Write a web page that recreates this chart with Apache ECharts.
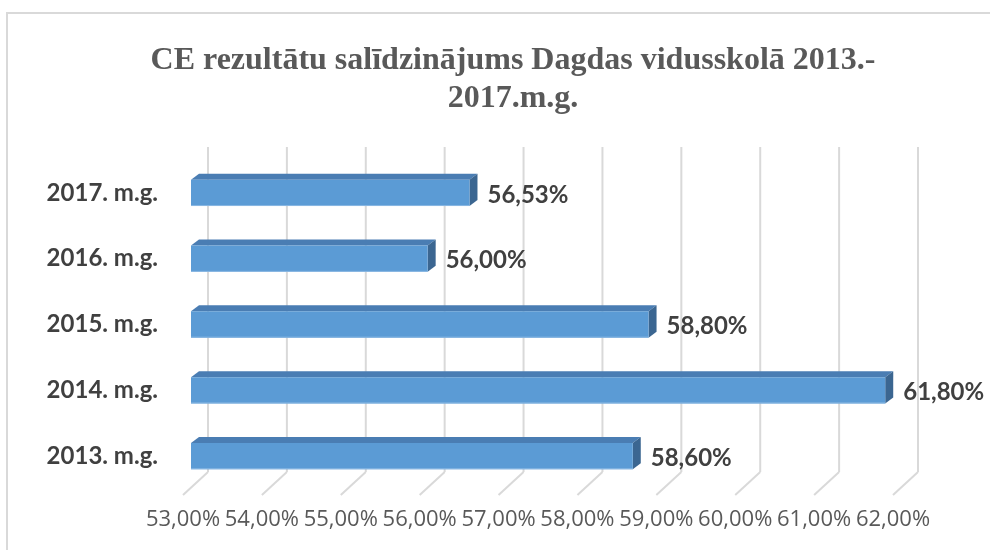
<!DOCTYPE html>
<html>
<head>
<meta charset="utf-8">
<script src="https://cdn.jsdelivr.net/npm/echarts@6/dist/echarts.min.js"></script>
<style>
  html, body { margin: 0; padding: 0; background: #fff; }
  #chart { width: 990px; height: 550px; }
</style>
</head>
<body>
<div id="chart"></div>
<script>
// data
const years = ['2013. m.g.', '2014. m.g.', '2015. m.g.', '2016. m.g.', '2017. m.g.'];
const results = [58.60, 61.80, 58.80, 56.00, 56.53];
const ticks = [53, 54, 55, 56, 57, 58, 59, 60, 61, 62];

const fmt = v => v.toFixed(2).replace('.', ',') + '%';

// fake 3d depth (px)
const DEPTH_X = 25, DEPTH_Y = -23;   // floor front -> back wall
const BAR_SHIFT = 8;                  // bar front face sits a bit into the floor
const BAR_DX = 8, BAR_DY = -6;        // bar thickness

const chart = echarts.init(document.getElementById('chart'));

function renderGrid(params, api) {
  const cs = params.coordSys;
  const x = api.coord([api.value(0), 0])[0];
  const yFloor = cs.y + cs.height + 6;
  return {
    type: 'group',
    children: [
      { type: 'line', shape: { x1: x, y1: yFloor, x2: x + DEPTH_X, y2: yFloor + DEPTH_Y },
        style: { stroke: '#d9d9d9', lineWidth: 2 } },
      { type: 'line', shape: { x1: x + DEPTH_X, y1: yFloor + DEPTH_Y, x2: x + DEPTH_X, y2: cs.y - 13 },
        style: { stroke: '#d9d9d9', lineWidth: 2 } }
    ]
  };
}

function renderBar(params, api) {
  const cat = api.value(1);
  const val = api.value(0);
  const start = api.coord([ticks[0], cat]);
  const end = api.coord([val, cat]);
  const h = api.size([0, 1])[1] * 0.4;
  const x0 = start[0] + BAR_SHIFT, x1 = end[0] + BAR_SHIFT;
  const yT = end[1] - h / 2, yB = yT + h;
  return {
    type: 'group',
    children: [
      { type: 'polygon', shape: { points: [[x0, yT], [x0 + BAR_DX, yT + BAR_DY], [x1 + BAR_DX, yT + BAR_DY], [x1, yT]] },
        style: { fill: '#4a7db3' } },
      { type: 'polygon', shape: { points: [[x1, yT], [x1 + BAR_DX, yT + BAR_DY], [x1 + BAR_DX, yB + BAR_DY], [x1, yB]] },
        style: { fill: '#3b6691' } },
      { type: 'rect', shape: { x: x0, y: yT, width: x1 - x0, height: h },
        style: { fill: '#5b9bd5' } },
      { type: 'line', shape: { x1: x0, y1: yB - 0.5, x2: x1, y2: yB - 0.5 },
        style: { stroke: '#8ab8e3', lineWidth: 1 } },
      { type: 'text', x: x1 + BAR_DX + 10, y: end[1] + 2,
        style: { text: fmt(val), fill: '#404040', font: 'bold 24px Lato', verticalAlign: 'middle', textAlign: 'left' } }
    ]
  };
}

const option = {
  backgroundColor: '#fff',
  animation: false,
  title: {
    text: 'CE rezultātu salīdzinājums Dagdas vidusskolā 2013.-\n2017.m.g.',
    left: 508,
    top: 37,
    textAlign: 'center',
    textStyle: {
      fontFamily: 'Liberation Serif',
      fontWeight: 'bold',
      fontSize: 32,
      lineHeight: 38,
      color: '#595959'
    }
  },
  graphic: [
    { type: 'rect', shape: { x: 7, y: 13, width: 1000, height: 560 },
      style: { fill: null, stroke: '#d9d9d9', lineWidth: 2 }, z: -1 }
  ],
  grid: { left: 183, right: 97, top: 160, bottom: 61 },
  xAxis: {
    type: 'value',
    min: ticks[0],
    max: ticks[ticks.length - 1],
    interval: 1,
    axisLine: { show: false },
    axisTick: { show: false },
    splitLine: { show: false },
    axisLabel: {
      margin: 20,
      formatter: v => fmt(v),
      fontFamily: 'Open Sans',
      fontSize: 22,
      color: '#595959'
    }
  },
  yAxis: {
    type: 'category',
    data: years,
    axisLine: { show: false },
    axisTick: { show: false },
    axisLabel: {
      margin: 25,
      padding: [14, 0, 0, 0],
      fontFamily: 'Lato',
      fontWeight: 'bold',
      fontSize: 24,
      color: '#404040'
    }
  },
  series: [
    {
      type: 'custom',
      renderItem: renderGrid,
      data: ticks.map(t => [t]),
      encode: { x: 0 },
      silent: true,
      z: 1
    },
    {
      type: 'custom',
      renderItem: renderBar,
      data: results.map((v, i) => [v, i]),
      encode: { x: 0, y: 1 },
      z: 2
    }
  ]
};

chart.setOption(option);
window.addEventListener('resize', () => chart.resize());
</script>
</body>
</html>
